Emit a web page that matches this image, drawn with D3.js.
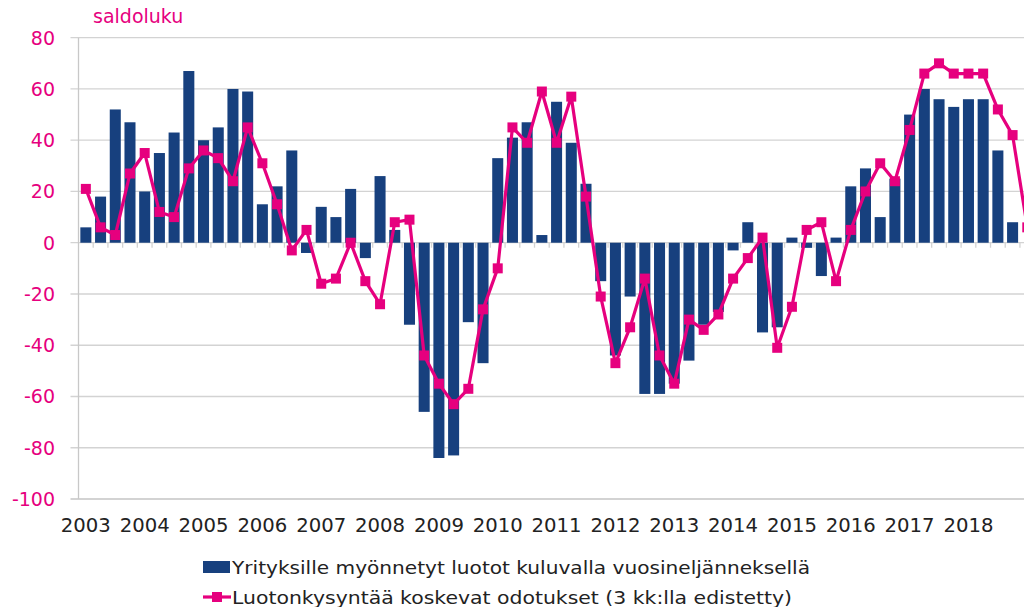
<!DOCTYPE html>
<html>
<head>
<meta charset="utf-8">
<script src="https://cdn.jsdelivr.net/npm/d3@7"></script>
<style>
  body { margin: 0; background: #fff; }
  svg { display: block; font-family: "DejaVu Sans", Verdana, sans-serif; }
</style>
</head>
<body>
<svg id="chart" width="1024" height="607"></svg>
<script>
// quarters 2003Q1 .. 2019Q1
const years = d3.range(2003, 2020);
const quarters = [];
years.forEach(y => [1, 2, 3, 4].forEach(q => quarters.push(y + 'Q' + q)));
quarters.splice(65); // last one 2019Q1

const yearLabels = d3.range(2003, 2019).map(String);
const yTicks = [80, 60, 40, 20, 0, -20, -40, -60, -80, -100];

// Yrityksille myönnetyt luotot kuluvalla vuosineljänneksellä
const loans = [
  6, 18, 52, 47, 20, 35, 43, 67, 40, 45, 60, 59, 15, 22, 36, -4,
  14, 10, 21, -6, 26, 5, -32, -66, -84, -83, -31, -47, 33, 41, 47, 3,
  55, 39, 23, -15, -44, -21, -59, -59, -55, -46, -32, -27, -3, 8, -35, -33,
  2, -2, -13, 2, 22, 29, 10, 25, 50, 60, 56, 53, 56, 56, 36, 8, null
];

// Luotonkysyntää koskevat odotukset (3 kk:lla edistetty)
const expectations = [
  21, 6, 3, 27, 35, 12, 10, 29, 36, 33, 24, 45, 31, 15, -3, 5,
  -16, -14, 0, -15, -24, 8, 9, -44, -55, -63, -57, -26, -10, 45, 39, 59,
  39, 57, 18, -21, -47, -33, -14, -44, -55, -30, -34, -28, -14, -6, 2, -41,
  -25, 5, 8, -15, 5, 20, 31, 24, 44, 66, 70, 66, 66, 66, 52, 42, 6
];

const pink = '#e6007e';
const blue = '#17407e';

const svg = d3.select('#chart');

const plotLeft = 78.5, plotTop = 37.7, plotBottom = 499;
const step = 14.71;
const plotRight = plotLeft + step * quarters.length;

const x = d3.scaleBand()
  .domain(quarters)
  .range([plotLeft, plotRight])
  .paddingInner(0.25)
  .paddingOuter(0.125);

const y = d3.scaleLinear()
  .domain([-100, 80])
  .range([plotBottom, plotTop]);

// gridlines
svg.append('g')
  .selectAll('line')
  .data(yTicks)
  .join('line')
  .attr('x1', plotLeft - 8)
  .attr('x2', plotRight)
  .attr('y1', d => y(d))
  .attr('y2', d => y(d))
  .attr('stroke', '#d3d3d3')
  .attr('stroke-width', d => d === -100 ? 2 : 1.3);

// y axis line
svg.append('line')
  .attr('x1', plotLeft).attr('x2', plotLeft)
  .attr('y1', plotTop).attr('y2', plotBottom)
  .attr('stroke', '#c8c8c8')
  .attr('stroke-width', 1.3);

// y labels
svg.append('g')
  .selectAll('text')
  .data(yTicks)
  .join('text')
  .attr('x', 55)
  .attr('y', d => y(d))
  .attr('dy', '0.36em')
  .attr('text-anchor', 'end')
  .attr('fill', pink)
  .style('font-size', '19px')
  .text(d => d);

svg.append('text')
  .attr('x', 93)
  .attr('y', 23)
  .attr('fill', pink)
  .style('font-size', '19px')
  .text('saldoluku');

// bars
svg.append('g')
  .selectAll('rect')
  .data(quarters.map((q, i) => ({ q, v: loans[i] })).filter(d => d.v !== null))
  .join('rect')
  .attr('x', d => x(d.q))
  .attr('width', x.bandwidth())
  .attr('y', d => y(Math.max(0, d.v)))
  .attr('height', d => Math.abs(y(d.v) - y(0)))
  .attr('fill', blue);

// category ticks on the zero line
svg.append('g')
  .selectAll('line')
  .data(d3.range(1, quarters.length))
  .join('line')
  .attr('x1', i => plotLeft + i * step)
  .attr('x2', i => plotLeft + i * step)
  .attr('y1', y(0))
  .attr('y2', y(0) + 5)
  .attr('stroke', '#d3d3d3')
  .attr('stroke-width', 1.3);

// line series
const cx = q => x(q) + x.bandwidth() / 2;
const pts = quarters.map((q, i) => ({ q, v: expectations[i] }));

svg.append('path')
  .datum(pts)
  .attr('d', d3.line().x(d => cx(d.q)).y(d => y(d.v)))
  .attr('fill', 'none')
  .attr('stroke', pink)
  .attr('stroke-width', 3.2)
  .attr('stroke-linejoin', 'round');

svg.append('g')
  .selectAll('rect')
  .data(pts)
  .join('rect')
  .attr('x', d => cx(d.q) - 5)
  .attr('y', d => y(d.v) - 5)
  .attr('width', 10)
  .attr('height', 10)
  .attr('fill', pink);

// year labels under Q1 of each year
svg.append('g')
  .selectAll('text')
  .data(yearLabels)
  .join('text')
  .attr('x', d => cx(d + 'Q1'))
  .attr('y', 532)
  .attr('text-anchor', 'middle')
  .attr('fill', '#222')
  .style('font-size', '19px')
  .attr('textLength', 50)
  .attr('lengthAdjust', 'spacingAndGlyphs')
  .text(d => d);

// legend
const legend = svg.append('g');
legend.append('rect')
  .attr('x', 203).attr('y', 561)
  .attr('width', 27).attr('height', 12)
  .attr('fill', blue);
legend.append('text')
  .attr('x', 232).attr('y', 567)
  .attr('dy', '0.36em')
  .attr('fill', '#222')
  .style('font-size', '18.5px')
  .attr('textLength', 578)
  .attr('lengthAdjust', 'spacingAndGlyphs')
  .text('Yrityksille myönnetyt luotot kuluvalla vuosineljänneksellä');

legend.append('line')
  .attr('x1', 203).attr('x2', 231)
  .attr('y1', 597).attr('y2', 597)
  .attr('stroke', pink).attr('stroke-width', 3.2);
legend.append('rect')
  .attr('x', 212).attr('y', 592)
  .attr('width', 10).attr('height', 10)
  .attr('fill', pink);
legend.append('text')
  .attr('x', 232).attr('y', 597)
  .attr('dy', '0.36em')
  .attr('fill', '#222')
  .style('font-size', '18.5px')
  .attr('textLength', 560)
  .attr('lengthAdjust', 'spacingAndGlyphs')
  .text('Luotonkysyntää koskevat odotukset (3 kk:lla edistetty)');
</script>
</body>
</html>
